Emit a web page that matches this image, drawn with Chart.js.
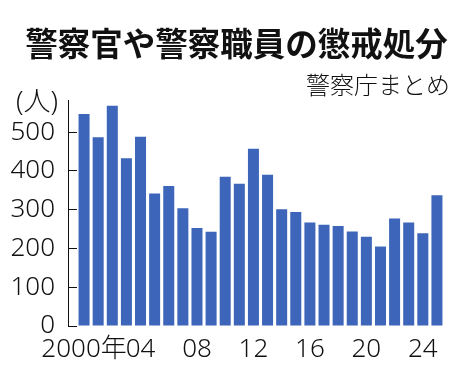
<!DOCTYPE html>
<html lang="ja">
<head>
  <meta charset="UTF-8" />
  <script src="https://cdn.jsdelivr.net/npm/chart.js"></script>
  <title>警察官や警察職員の懲戒処分</title>
  <style>
    html, body { margin: 0; padding: 0; background: #fff; }
    #wrap { position: relative; width: 467px; height: 366px; overflow: hidden; }
    #chart { position: absolute; left: 0; top: 0; }
    .txt { position: absolute; white-space: nowrap; color: #111; line-height: 1; }
    #title { left: 0; width: 473px; text-align: center; top: 18px; font: bold 32.5px "Noto Sans CJK JP", sans-serif; }
    #source { right: 17px; top: 66px; font: 300 24px "Noto Sans CJK JP", sans-serif; }
    #unit { left: 16px; top: 80px; font: 300 27px "Noto Sans", "Noto Sans CJK JP", sans-serif; }
  </style>
</head>
<body>
  <div id="wrap">
    <canvas id="chart" width="467" height="366"></canvas>
    <div class="txt" id="title">警察官や警察職員の懲戒処分</div>
    <div class="txt" id="source">警察庁まとめ</div>
    <div class="txt" id="unit">(人)</div>
  </div>

  <script>
    // 2000〜2025年
    const years = ["2000", "2001", "2002", "2003", "2004", "2005", "2006", "2007", "2008", "2009",
                   "2010", "2011", "2012", "2013", "2014", "2015", "2016", "2017", "2018", "2019",
                   "2020", "2021", "2022", "2023", "2024", "2025"];
    const counts = [547, 487, 568, 433, 488, 342, 361, 304, 253, 243,
                    385, 367, 457, 390, 301, 294, 267, 261, 258, 244,
                    230, 205, 277, 267, 239, 337];
    const yTicks = [0, 100, 200, 300, 400, 500];
    const xShown = { "2000": "2000年", "2004": "04", "2008": "08", "2012": "12", "2016": "16", "2020": "20", "2024": "24" };

    const axisLine = {
      id: "axisLine",
      afterDraw(chart) {
        const { ctx, chartArea } = chart;
        const x = chartArea.left - 8.5;
        ctx.save();
        ctx.strokeStyle = "#111";
        ctx.lineWidth = 1;
        ctx.beginPath();
        ctx.moveTo(x, chartArea.top);
        ctx.lineTo(x, chartArea.bottom);
        ctx.stroke();
        ctx.restore();
      }
    };

    const tickFont = { family: "'Noto Sans', 'Noto Sans CJK JP'", size: 26, weight: 300 };

    new Chart(document.getElementById("chart"), {
      type: "bar",
      data: {
        labels: years,
        datasets: [{
          data: counts,
          backgroundColor: "#3d65b9",
          barPercentage: 0.78,
          categoryPercentage: 1
        }]
      },
      options: {
        responsive: false,
        animation: false,
        layout: { padding: { top: 100, right: 23, left: 0, bottom: 0 } },
        plugins: { legend: { display: false }, tooltip: { enabled: false } },
        scales: {
          x: {
            offset: true,
            grid: { display: false, drawTicks: false },
            border: { display: false },
            ticks: {
              autoSkip: false,
              maxRotation: 0,
              padding: 8,
              color: "#111",
              font: tickFont,
              callback: function (v, i) { return xShown[years[i]] || ""; }
            },
            afterFit: s => { s.height = 40; }
          },
          y: {
            min: 0,
            max: 583,
            afterBuildTicks: s => { s.ticks = yTicks.map(v => ({ value: v })); },
            grid: { drawOnChartArea: false, drawTicks: true, tickLength: 9, color: "#111" },
            border: { display: false },
            ticks: {
              padding: 13,
              color: "#111",
              font: tickFont
            },
            afterFit: s => { s.width = 77; }
          }
        }
      },
      plugins: [axisLine]
    });
  </script>
</body>
</html>
